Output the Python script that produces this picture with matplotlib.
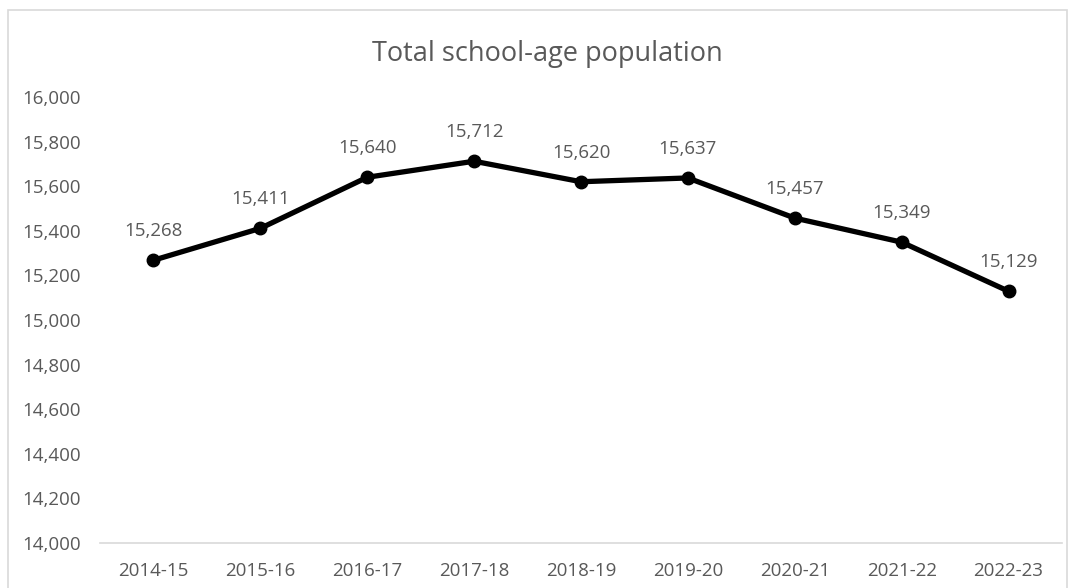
import matplotlib.pyplot as plt
from matplotlib.patches import Rectangle

years = ['2014-15', '2015-16', '2016-17', '2017-18', '2018-19',
         '2019-20', '2020-21', '2021-22', '2022-23']
population = [15268, 15411, 15640, 15712, 15620, 15637, 15457, 15349, 15129]
yticks = list(range(14000, 16001, 200))

plt.rcParams['font.family'] = ['Open Sans', 'DejaVu Sans']
grey = '#595959'

fig = plt.figure(figsize=(10.75, 5.88), dpi=100)
ax = fig.add_axes([100 / 1075, 1 - 543 / 588, 962 / 1075, (543 - 97) / 588])

# outer chart border
fig.patches.append(Rectangle((8 / 1075, -0.1), 1059 / 1075, 1.1 - 10 / 588,
                             transform=fig.transFigure, fill=False,
                             edgecolor='#d9d9d9', linewidth=1.2))

x = list(range(len(years)))
ax.plot(x, population, color='black', linewidth=3.8, marker='o',
        markersize=9, solid_capstyle='round', zorder=3)

for xi, v in zip(x, population):
    ax.annotate(f'{v:,}', (xi, v), xytext=(0, 21), textcoords='offset points',
                ha='center', va='center', fontsize=13.5, color=grey)

ax.set_xlim(-0.5, len(years) - 0.5)
ax.set_ylim(14000, 16000)
ax.set_xticks(x)
ax.set_xticklabels(years)
ax.set_yticks(yticks)
ax.set_yticklabels([f'{t:,}' for t in yticks])
ax.tick_params(axis='both', length=0, labelsize=13.5, labelcolor=grey)
ax.tick_params(axis='x', pad=14)
ax.tick_params(axis='y', pad=14)

for s in ['top', 'right', 'left']:
    ax.spines[s].set_visible(False)
ax.spines['bottom'].set_color('#d9d9d9')
ax.spines['bottom'].set_linewidth(1.2)

fig.text(547 / 1075, 1 - 61 / 588, 'Total school-age population',
         ha='center', va='baseline', fontsize=19.5, color=grey)

fig.savefig('out.png', dpi=100)
